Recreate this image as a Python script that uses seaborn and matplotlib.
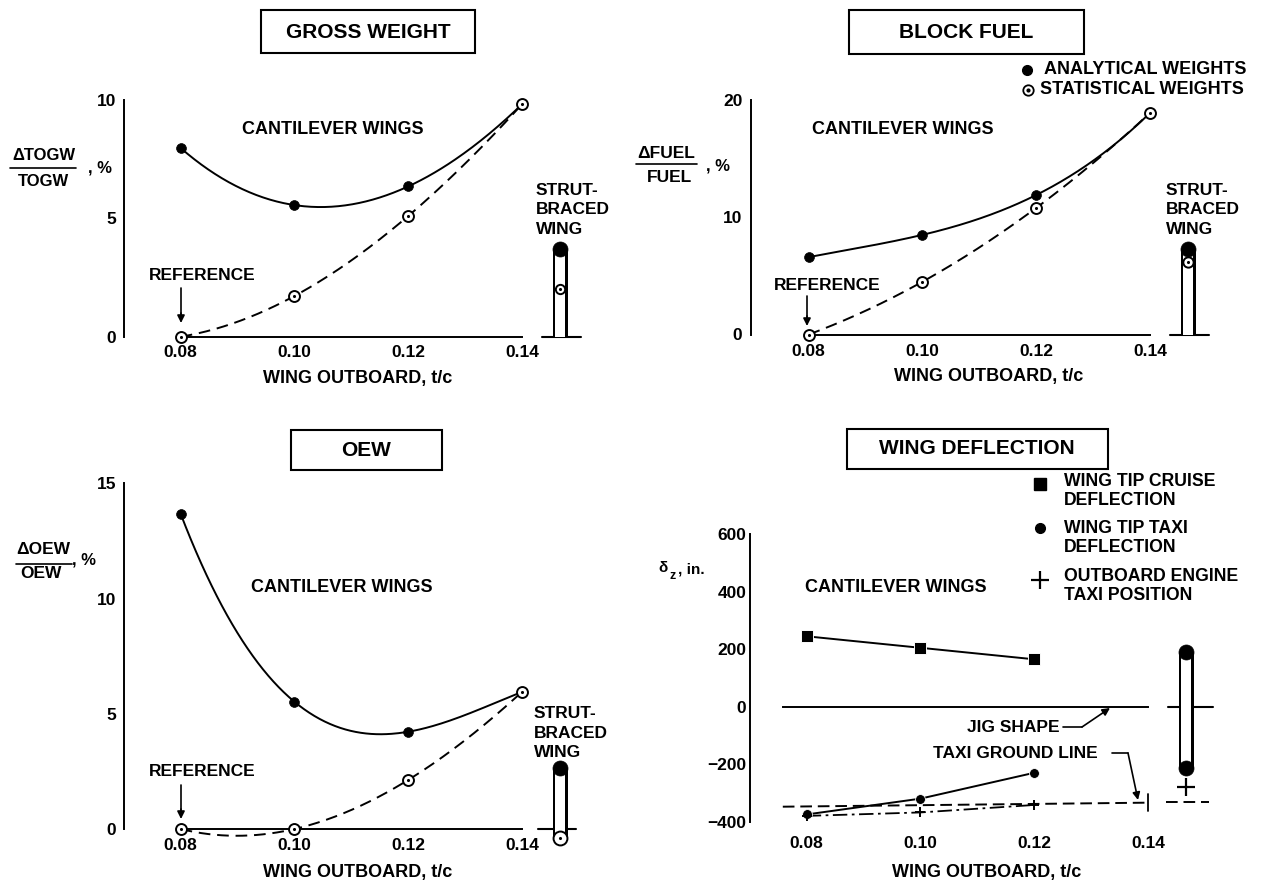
import numpy as np
import matplotlib
matplotlib.use("Agg")
import matplotlib.pyplot as plt
import seaborn as sns
from matplotlib.lines import Line2D
from matplotlib.patches import Rectangle, FancyArrowPatch

# ---------------- data ----------------
t_c = [0.08, 0.10, 0.12, 0.14]
x_tick_labels = ["0.08", "0.10", "0.12", "0.14"]

gw_analytical = [7.97, 5.56, 6.35, 9.82]
gw_statistical = [0.0, 1.72, 5.10, 9.82]
gw_strut_analytical = 3.7
gw_strut_statistical = 2.0
gw_yticks = [0, 5, 10]

bf_analytical = [6.6, 8.5, 11.9, 18.9]
bf_statistical = [0.0, 4.5, 10.8, 18.9]
bf_strut_analytical = 7.3
bf_strut_statistical = 6.2
bf_yticks = [0, 10, 20]

oew_analytical = [13.67, 5.52, 4.22, 5.95]
oew_statistical = [0.0, 0.0, 2.13, 5.95]
oew_strut_analytical = 2.63
oew_strut_statistical = -0.4
oew_yticks = [0, 5, 10, 15]

defl_t_c = [0.08, 0.10, 0.12]
cruise_deflection = [245, 205, 165]
taxi_deflection = [-375, -320, -230]
engine_taxi_position = [-380, -368, -342]
strut_cruise_deflection = 190
strut_taxi_deflection = -215
strut_engine_position = -280
ground_line_x = [0.0758, 0.14]
ground_line_y = [-348, -334]
strut_ground_line = -332
defl_yticks = [-400, -200, 0, 200, 400, 600]

STRUT_X = 0.1467

# ---------------- style ----------------
sns.set_theme(style="white", rc={
    "text.color": "black", "axes.labelcolor": "black",
    "xtick.color": "black", "ytick.color": "black",
    "axes.edgecolor": "black", "axes.linewidth": 1.4,
})
plt.rcParams["font.family"] = ["Liberation Sans", "DejaVu Sans"]
plt.rcParams["font.weight"] = "bold"
plt.rcParams["axes.unicode_minus"] = True

W, H = 1261, 883
fig = plt.figure(figsize=(W / 100, H / 100), dpi=100)
fig.patch.set_facecolor("white")


def fx(px):
    return px / W


def fy(py):
    return 1 - py / H


def ftext(px, py, s, size=12.5, ha="center", va="center", **kw):
    fig.text(fx(px), fy(py), s, fontsize=size, fontweight="bold", ha=ha, va=va, **kw)


def fline(xs, ys, lw=1.3, **kw):
    fig.add_artist(Line2D([fx(x) for x in xs], [fy(y) for y in ys],
                          transform=fig.transFigure, color="black", lw=lw, **kw))


def farrow(p0, p1, lw=1.2, ms=11):
    fig.add_artist(FancyArrowPatch((fx(p0[0]), fy(p0[1])), (fx(p1[0]), fy(p1[1])),
                                   transform=fig.transFigure, arrowstyle="-|>",
                                   mutation_scale=ms, lw=lw, color="black",
                                   shrinkA=0, shrinkB=0))


def add_axes(xa, pxa, xb, pxb, ya, pya, yb, pyb, xlim, ylim):
    sx = (pxb - pxa) / (xb - xa)
    sy = (pyb - pya) / (yb - ya)
    left = pxa + (xlim[0] - xa) * sx
    right = pxa + (xlim[1] - xa) * sx
    top = pya + (ylim[1] - ya) * sy
    bottom = pya + (ylim[0] - ya) * sy
    ax = fig.add_axes([left / W, 1 - bottom / H, (right - left) / W, (bottom - top) / H])
    ax.set_facecolor("none")
    ax.set_xlim(xlim)
    ax.set_ylim(ylim)
    return ax


def style_axes(ax, yticks, xpad, mixed=True, xb0=0.0793):
    ax.spines[["top", "right"]].set_visible(False)
    ax.spines["left"].set_bounds(yticks[0], yticks[-1])
    ax.spines["bottom"].set_position(("data", 0))
    ax.spines["bottom"].set_bounds(xb0, 0.14)
    ax.set_xticks(t_c)
    ax.set_xticklabels(x_tick_labels)
    ax.set_yticks(yticks)
    ax.set_yticklabels([str(v) if v >= 0 else "\u2212" + str(-v) for v in yticks])
    ax.tick_params(axis="x", direction="in", length=6, width=1.3, pad=xpad,
                   labelsize=12.5)
    if mixed:
        ax.tick_params(axis="y", direction="out", length=4, width=1.3, pad=2,
                       labelsize=12.5)
        ticks = ax.yaxis.get_major_ticks()
        ticks[0].tick1line.set_visible(False)
        ticks[-1].tick1line.set_visible(False)
        ax.set_yticks([yticks[0], yticks[-1]], minor=True)
        ax.tick_params(axis="y", which="minor", direction="in", length=5, width=1.3)
    else:
        ax.tick_params(axis="y", direction="in", length=5, width=1.3, pad=3,
                       labelsize=12.5)
    for lab in ax.get_xticklabels() + ax.get_yticklabels():
        lab.set_fontweight("bold")


def smooth(x, y, n=200):
    x = np.asarray(x, float)
    y = np.asarray(y, float)
    t = (x - x[0]) / (x[-1] - x[0])
    c = np.polyfit(t, y, len(x) - 1)
    ts = np.linspace(0, 1, n)
    return x[0] + ts * (x[-1] - x[0]), np.polyval(c, ts)


def curve(ax, x, y, dashed=False):
    xs, ys = smooth(x, y)
    sns.lineplot(x=xs, y=ys, ax=ax, color="black", lw=1.4,
                 linestyle=(0, (6, 3.5)) if dashed else "-",
                 estimator=None, sort=False, zorder=3)


def filled(ax, x, y, s=50):
    sns.scatterplot(x=np.atleast_1d(x), y=np.atleast_1d(y), ax=ax, color="black",
                    s=s, edgecolor="black", linewidth=0.5, zorder=5,
                    clip_on=False, legend=False)


def open_dot(ax, x, y, s=62):
    sns.scatterplot(x=np.atleast_1d(x), y=np.atleast_1d(y), ax=ax, color="white",
                    s=s, edgecolor="black", linewidth=1.4, zorder=6,
                    clip_on=False, legend=False)
    sns.scatterplot(x=np.atleast_1d(x), y=np.atleast_1d(y), ax=ax, color="black",
                    s=5, linewidth=0, zorder=7, clip_on=False, legend=False)


def strut_bar(ax, lo, hi):
    sns.lineplot(x=[STRUT_X, STRUT_X], y=[lo, hi], ax=ax, color="black", lw=10.8,
                 solid_capstyle="butt", estimator=None, sort=False, zorder=3)
    sns.lineplot(x=[STRUT_X, STRUT_X], y=[lo, hi], ax=ax, color="white", lw=7.2,
                 solid_capstyle="butt", estimator=None, sort=False, zorder=4)


def strut_base(ax, y, x0=0.1435, x1=0.1503):
    sns.lineplot(x=[x0, x1], y=[y, y], ax=ax, color="black", lw=1.5,
                 estimator=None, sort=False, zorder=2)


# ---------------- GROSS WEIGHT ----------------
ax = add_axes(0.08, 180.7, 0.14, 522, 0, 336.7, 10, 100, (0.0701, 0.153), (-1.2, 10.6))
style_axes(ax, gw_yticks, xpad=6)
curve(ax, t_c, gw_analytical)
curve(ax, t_c, gw_statistical, dashed=True)
filled(ax, t_c, gw_analytical)
open_dot(ax, t_c, gw_statistical)
strut_base(ax, 0)
strut_bar(ax, 0, gw_strut_analytical)
filled(ax, STRUT_X, gw_strut_analytical, s=117)
open_dot(ax, STRUT_X, gw_strut_statistical, s=45)
ax.set_xlim(0.0701, 0.153)
ax.set_ylim(-1.2, 10.6)

# ---------------- BLOCK FUEL ----------------
ax = add_axes(0.08, 808.7, 0.14, 1150, 0, 334.5, 20, 100, (0.0698, 0.153), (-2.4, 21.2))
style_axes(ax, bf_yticks, xpad=7)
curve(ax, t_c, bf_analytical)
curve(ax, t_c, bf_statistical, dashed=True)
filled(ax, t_c, bf_analytical)
open_dot(ax, t_c, bf_statistical)
strut_base(ax, 0)
strut_bar(ax, 0, bf_strut_analytical)
filled(ax, STRUT_X, bf_strut_analytical, s=117)
open_dot(ax, STRUT_X, bf_strut_statistical, s=55)
ax.set_xlim(0.0698, 0.153)
ax.set_ylim(-2.4, 21.2)

# ---------------- OEW ----------------
ax = add_axes(0.08, 180.7, 0.14, 522, 0, 829, 15, 483.3, (0.0701, 0.153), (-1.5, 15.8))
style_axes(ax, oew_yticks, xpad=6.5)
curve(ax, t_c, oew_analytical)
curve(ax, t_c, oew_statistical, dashed=True)
filled(ax, t_c, oew_analytical)
open_dot(ax, t_c, oew_statistical)
strut_bar(ax, oew_strut_statistical, oew_strut_analytical)
strut_base(ax, 0, 0.1428, 0.1495)
filled(ax, STRUT_X, oew_strut_analytical, s=117)
open_dot(ax, STRUT_X, oew_strut_statistical, s=100)
ax.set_xlim(0.0701, 0.153)
ax.set_ylim(-1.5, 15.8)

# ---------------- WING DEFLECTION ----------------
ax = add_axes(0.08, 806.7, 0.14, 1148, 0, 706.7, 600, 534.3, (0.0701, 0.153), (-420, 630))
style_axes(ax, defl_yticks, xpad=93, mixed=False, xb0=0.0758)
sns.lineplot(x=defl_t_c, y=cruise_deflection, ax=ax, color="black", lw=1.4,
             estimator=None, sort=False, zorder=3)
sns.scatterplot(x=defl_t_c, y=cruise_deflection, ax=ax, color="black", marker="s",
                s=70, zorder=5, legend=False)
sns.lineplot(x=defl_t_c, y=taxi_deflection, ax=ax, color="black", lw=1.4,
             estimator=None, sort=False, zorder=3)
sns.scatterplot(x=defl_t_c, y=taxi_deflection, ax=ax, color="black", s=50,
                zorder=5, legend=False)
sns.lineplot(x=defl_t_c, y=engine_taxi_position, ax=ax, color="black", lw=1.3,
             linestyle=(0, (8, 2.5, 1.5, 2.5)), estimator=None, sort=False, zorder=3)
sns.scatterplot(x=defl_t_c, y=engine_taxi_position, ax=ax, color="black", marker="+",
                s=60, linewidth=1.4, zorder=5, legend=False)
sns.lineplot(x=ground_line_x, y=ground_line_y, ax=ax, color="black", lw=1.4,
             linestyle=(0, (6, 3)), estimator=None, sort=False, zorder=2)
sns.lineplot(x=[0.14, 0.14], y=[ground_line_y[-1] - 30, ground_line_y[-1] + 30], ax=ax,
             color="black", lw=1.3, estimator=None, sort=False, zorder=2)
sns.lineplot(x=[0.1432, 0.1508], y=[strut_ground_line, strut_ground_line], ax=ax,
             color="black", lw=1.4, linestyle=(0, (6, 3)), estimator=None, sort=False)
strut_bar(ax, strut_taxi_deflection, strut_cruise_deflection)
strut_base(ax, 0, 0.1435, 0.1515)
filled(ax, STRUT_X, strut_cruise_deflection, s=117)
filled(ax, STRUT_X, strut_taxi_deflection, s=117)
sns.scatterplot(x=[STRUT_X], y=[strut_engine_position], ax=ax, color="black", marker="+",
                s=150, linewidth=1.6, zorder=5, legend=False, clip_on=False)
ax.set_xlim(0.0701, 0.153)
ax.set_ylim(-420, 630)

# ---------------- titles (boxed) ----------------
for (x0, y0, x1, y1, cx, cy, s) in [
    (261, 10, 475, 53, 368, 32, "GROSS WEIGHT"),
    (849, 10, 1084, 54, 966.5, 33, "BLOCK FUEL"),
    (291, 430, 442, 470, 366.5, 450, "OEW"),
    (847, 429, 1108, 469, 977, 449, "WING DEFLECTION"),
]:
    fig.add_artist(Rectangle((fx(x0), fy(y1)), fx(x1) - fx(x0), fy(y0) - fy(y1),
                             transform=fig.transFigure, fill=False, ec="black", lw=1.5))
    ftext(cx, cy, s, size=15)

# ---------------- in-panel labels ----------------
for (cx, cy) in [(333, 130), (903, 129), (342, 587), (895.5, 587)]:
    ftext(cx, cy, "CANTILEVER WINGS", size=13)

for (lx, cy) in [(536, 210), (1166, 210), (534, 733)]:
    ftext(lx, cy, "STRUT-\nBRACED\nWING", size=12.5, ha="left", linespacing=1.36)

for (cx, cy, ax0, ay0, ay1) in [(202, 275, 181, 288, 323),
                                (827, 285, 807, 296, 326),
                                (202, 772, 181, 785, 819)]:
    ftext(cx, cy, "REFERENCE", size=12.5)
    fline([ax0, ax0], [ay0, ay1 - 8], lw=1.2)
    farrow((ax0, ay1 - 10), (ax0, ay1))

for (cx, cy) in [(357.5, 378), (988.5, 377), (357.5, 873), (986.5, 873)]:
    ftext(cx, cy, "WING OUTBOARD, t/c", size=13)

# y-axis labels as fractions
ftext(44, 156, "\u0394TOGW", size=12)
fline([10, 76], [168, 168], lw=1.2)
ftext(44, 181, "TOGW", size=12)
ftext(100, 168, ", %", size=12)

ftext(666, 153, "\u0394FUEL", size=12.5)
fline([636, 697], [164, 164], lw=1.2)
ftext(669, 178, "FUEL", size=12.5)
ftext(718, 166, ", %", size=12)

ftext(43, 550, "\u0394OEW", size=12.5)
fline([16, 72], [564, 564], lw=1.2)
ftext(41, 574, "OEW", size=12.5)
ftext(84, 560, ", %", size=12)

ftext(663, 568, "\u03b4", size=11)
ftext(673, 576, "z", size=9)
ftext(678, 569, ", in.", size=11, ha="left")

# block fuel legend
fig.add_artist(Line2D([fx(1027)], [fy(70)], transform=fig.transFigure, marker="o",
                      ms=7, color="black", lw=0))
fig.add_artist(Line2D([fx(1028)], [fy(90)], transform=fig.transFigure, marker="o",
                      ms=7.5, mfc="white", mec="black", mew=1.3, lw=0))
fig.add_artist(Line2D([fx(1028)], [fy(90)], transform=fig.transFigure, marker="o",
                      ms=2, color="black", lw=0))
ftext(1044, 70, "ANALYTICAL WEIGHTS", size=13, ha="left")
ftext(1040, 90, "STATISTICAL WEIGHTS", size=13, ha="left")

# deflection legend
fig.add_artist(Line2D([fx(1040)], [fy(484)], transform=fig.transFigure, marker="s",
                      ms=8.5, color="black", lw=0))
fig.add_artist(Line2D([fx(1040)], [fy(528)], transform=fig.transFigure, marker="o",
                      ms=7, color="black", lw=0))
fig.add_artist(Line2D([fx(1040)], [fy(580)], transform=fig.transFigure, marker="+",
                      ms=13, mew=1.6, color="black", lw=0))
ftext(1064, 491, "WING TIP CRUISE\nDEFLECTION", size=12.7, ha="left", linespacing=1.22)
ftext(1064, 538, "WING TIP TAXI\nDEFLECTION", size=12.7, ha="left", linespacing=1.22)
ftext(1064, 586, "OUTBOARD ENGINE\nTAXI POSITION", size=12.7, ha="left", linespacing=1.22)

# deflection annotations
ftext(1013, 727, "JIG SHAPE", size=12.5)
fline([1063, 1082], [727, 727], lw=1.2)
farrow((1082, 727), (1110, 708))
ftext(1015, 754, "TAXI GROUND LINE", size=12.5)
fline([1112, 1128], [753, 753], lw=1.2)
farrow((1128, 753), (1138, 800))

fig.savefig("out.png", dpi=100, facecolor="white")
